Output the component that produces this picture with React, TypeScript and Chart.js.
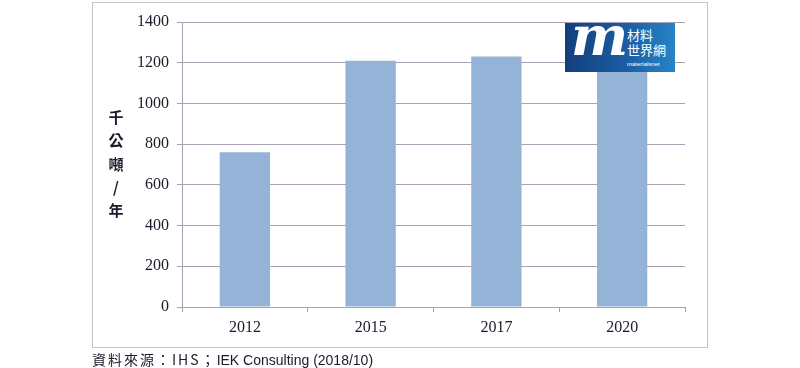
import React, { useEffect, useRef } from "react";
import { Chart, registerables } from "chart.js";

Chart.register(...registerables);

const categories = ["2012", "2015", "2017", "2020"];
const values = [760, 1210, 1230, 1250];
const yMin = 0;
const yMax = 1400;
const yStep = 200;
const yTitleChars = ["千", "公", "噸", "/", "年"];
const sourceCjk = "資料來源：IHS；";
const sourceLatin = "IEK Consulting (2018/10)";

const GRID = "#a7a2b3";
const BAR = "#95b3d7";

const frameBox = {
  id: "frameBox",
  beforeDraw(chart: any) {
    const ctx = chart.ctx;
    ctx.save();
    ctx.fillStyle = "#ffffff";
    ctx.fillRect(0, 0, chart.width, chart.height);
    ctx.strokeStyle = "#c4c4c4";
    ctx.lineWidth = 1;
    ctx.strokeRect(92.5, 2.5, 615, 345);
    ctx.restore();
  },
};

export default function App() {
  const ref = useRef<HTMLCanvasElement | null>(null);
  useEffect(() => {
    if (!ref.current) return;
    const chart = new Chart(ref.current, {
      type: "bar",
      data: {
        labels: categories,
        datasets: [
          {
            data: values,
            backgroundColor: BAR,
            borderWidth: 0,
            categoryPercentage: 1,
            barPercentage: 0.4,
          },
        ],
      },
      options: {
        responsive: false,
        animation: false,
        layout: { padding: { left: 0, right: 115, top: 22, bottom: 0 } },
        plugins: { legend: { display: false }, tooltip: { enabled: false } },
        scales: {
          x: {
            offset: true,
            grid: {
              display: true,
              drawOnChartArea: false,
              drawTicks: true,
              tickLength: 5,
              color: GRID,
              offset: true,
            },
            border: { display: true, color: GRID },
            ticks: {
              color: "#1a1a2a",
              font: { family: "Liberation Serif", size: 16 },
              padding: 6,
            },
            afterFit: (s: any) => {
              s.height = 61;
            },
          },
          y: {
            min: yMin,
            max: yMax,
            grid: { color: GRID, tickLength: 5 },
            border: { display: true, color: GRID },
            ticks: {
              stepSize: yStep,
              color: "#1a1a2a",
              font: { family: "Liberation Serif", size: 16 },
              padding: 8,
              callback: (v: any) => String(v),
            },
            afterFit: (s: any) => {
              s.width = 182;
            },
          },
        },
      },
      plugins: [frameBox],
    });
    return () => chart.destroy();
  }, []);

  return (
    <div
      style={{
        position: "fixed",
        left: 0,
        top: 0,
        width: 800,
        height: 368,
        background: "#fff",
        overflow: "hidden",
      }}
    >
      <canvas ref={ref} width={800} height={368} style={{ position: "absolute", left: 0, top: 0 }} />
      <div
        style={{
          position: "absolute",
          left: 106,
          top: 105,
          width: 20,
          textAlign: "center",
          fontFamily: "'Noto Sans CJK TC', sans-serif",
          fontWeight: 700,
          fontSize: 15,
          lineHeight: "23.3px",
          color: "#1a1a2a",
        }}
      >
        {yTitleChars.map((c, i) => (
          <div key={i}>{c}</div>
        ))}
      </div>
      <div
        style={{
          position: "absolute",
          left: 565,
          top: 23,
          width: 110,
          height: 49,
          background: "linear-gradient(90deg, #133f7c 0%, #1a5da3 55%, #2884c6 100%)",
          color: "#fff",
          overflow: "hidden",
        }}
      >
        <div
          style={{
            position: "absolute",
            left: 6,
            top: -14,
            fontFamily: "'DejaVu Serif', serif",
            fontStyle: "italic",
            fontWeight: 700,
            fontSize: 54,
            lineHeight: "54px",
            letterSpacing: -6,
          }}
        >
          m
        </div>
        <div
          style={{
            position: "absolute",
            left: 62,
            top: 4,
            fontFamily: "'Noto Sans CJK TC', sans-serif",
            fontSize: 13,
            lineHeight: "15px",
          }}
        >
          材料
          <br />
          世界網
        </div>
        <div
          style={{
            position: "absolute",
            left: 62,
            top: 38,
            fontFamily: "'Liberation Sans', sans-serif",
            fontSize: 6,
            lineHeight: "7px",
          }}
        >
          materialsnet
        </div>
      </div>
      <div
        style={{
          position: "absolute",
          left: 92,
          top: 350,
          whiteSpace: "nowrap",
          fontSize: 14,
          lineHeight: "18px",
          color: "#1a1a2a",
        }}
      >
        <span style={{ fontFamily: "'Noto Sans CJK TC', serif", letterSpacing: 2 }}>{sourceCjk}</span>
        <span style={{ fontFamily: "'Liberation Sans', sans-serif" }}>{sourceLatin}</span>
      </div>
    </div>
  );
}
